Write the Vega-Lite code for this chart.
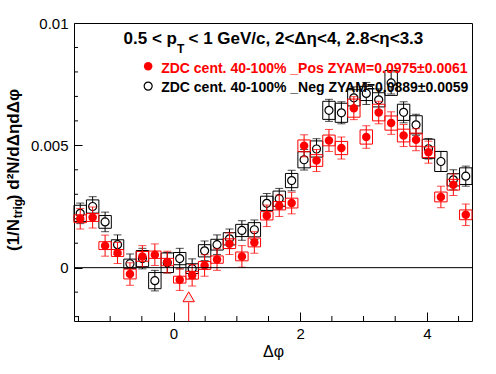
{
  "$schema": "https://vega.github.io/schema/vega-lite/v6.json",
  "width": 398,
  "height": 298,
  "autosize": {"type": "none"},
  "padding": {"left": 74, "top": 23, "right": 24, "bottom": 53},
  "background": "white",
  "config": {
    "view": {"stroke": "black", "strokeWidth": 1},
    "font": "Liberation Sans",
    "axis": {"domain": false, "grid": false, "tickColor": "black", "labelColor": "black", "titleColor": "black", "labelFont": "Liberation Sans", "titleFont": "Liberation Sans", "labelOverlap": false}
  },
  "datasets": {
    "neg": [
      {"x": -1.4726, "x0": -1.5708, "x1": -1.3744, "y": 0.00222, "b0": 0.00189, "b1": 0.00255, "e": 0.00042},
      {"x": -1.2763, "x0": -1.3744, "x1": -1.1781, "y": 0.00250, "b0": 0.00223, "b1": 0.00277, "e": 0.00040},
      {"x": -1.0799, "x0": -1.1781, "x1": -0.9817, "y": 0.00187, "b0": 0.00161, "b1": 0.00213, "e": 0.00040},
      {"x": -0.8836, "x0": -0.9817, "x1": -0.7854, "y": 0.00094, "b0": 0.00074, "b1": 0.00114, "e": 0.00040},
      {"x": -0.6872, "x0": -0.7854, "x1": -0.5890, "y": 0.00016, "b0": -0.00003, "b1": 0.00035, "e": 0.00040},
      {"x": -0.4909, "x0": -0.5890, "x1": -0.3927, "y": 0.00037, "b0": 0.00004, "b1": 0.00070, "e": 0.00042},
      {"x": -0.2945, "x0": -0.3927, "x1": -0.1963, "y": -0.00053, "b0": -0.00086, "b1": -0.00020, "e": 0.00042},
      {"x": -0.0982, "x0": -0.1963, "x1": 0.0, "y": 0.00020, "b0": -0.00020, "b1": 0.00060, "e": 0.00042},
      {"x": 0.0982, "x0": 0.0, "x1": 0.1963, "y": 0.00037, "b0": 0.00012, "b1": 0.00062, "e": 0.00042},
      {"x": 0.2945, "x0": 0.1963, "x1": 0.3927, "y": -0.00004, "b0": -0.00024, "b1": 0.00016, "e": 0.00040},
      {"x": 0.4909, "x0": 0.3927, "x1": 0.5890, "y": 0.00069, "b0": 0.00044, "b1": 0.00094, "e": 0.00040},
      {"x": 0.6872, "x0": 0.5890, "x1": 0.7854, "y": 0.00094, "b0": 0.00072, "b1": 0.00116, "e": 0.00040},
      {"x": 0.8836, "x0": 0.7854, "x1": 0.9817, "y": 0.00118, "b0": 0.00093, "b1": 0.00143, "e": 0.00040},
      {"x": 1.0799, "x0": 0.9817, "x1": 1.1781, "y": 0.00152, "b0": 0.00127, "b1": 0.00177, "e": 0.00040},
      {"x": 1.2763, "x0": 1.1781, "x1": 1.3744, "y": 0.00155, "b0": 0.00126, "b1": 0.00184, "e": 0.00040},
      {"x": 1.4726, "x0": 1.3744, "x1": 1.5708, "y": 0.00263, "b0": 0.00234, "b1": 0.00292, "e": 0.00040},
      {"x": 1.6690, "x0": 1.5708, "x1": 1.7671, "y": 0.00282, "b0": 0.00251, "b1": 0.00313, "e": 0.00042},
      {"x": 1.8653, "x0": 1.7671, "x1": 1.9635, "y": 0.00356, "b0": 0.00327, "b1": 0.00385, "e": 0.00042},
      {"x": 2.0617, "x0": 1.9635, "x1": 2.1598, "y": 0.00441, "b0": 0.00408, "b1": 0.00474, "e": 0.00042},
      {"x": 2.2580, "x0": 2.1598, "x1": 2.3562, "y": 0.00485, "b0": 0.00452, "b1": 0.00518, "e": 0.00042},
      {"x": 2.4544, "x0": 2.3562, "x1": 2.5525, "y": 0.00643, "b0": 0.00606, "b1": 0.00680, "e": 0.00045},
      {"x": 2.6507, "x0": 2.5525, "x1": 2.7489, "y": 0.00633, "b0": 0.00594, "b1": 0.00672, "e": 0.00045},
      {"x": 2.8471, "x0": 2.7489, "x1": 2.9452, "y": 0.00694, "b0": 0.00661, "b1": 0.00727, "e": 0.00045},
      {"x": 3.0434, "x0": 2.9452, "x1": 3.1416, "y": 0.00712, "b0": 0.00683, "b1": 0.00741, "e": 0.00045},
      {"x": 3.2398, "x0": 3.1416, "x1": 3.3379, "y": 0.00686, "b0": 0.00657, "b1": 0.00715, "e": 0.00045},
      {"x": 3.4361, "x0": 3.3379, "x1": 3.5343, "y": 0.00755, "b0": 0.00704, "b1": 0.00806, "e": 0.00045},
      {"x": 3.6325, "x0": 3.5343, "x1": 3.7306, "y": 0.00635, "b0": 0.00602, "b1": 0.00668, "e": 0.00043},
      {"x": 3.8288, "x0": 3.7306, "x1": 3.9270, "y": 0.00584, "b0": 0.00547, "b1": 0.00621, "e": 0.00043},
      {"x": 4.0252, "x0": 3.9270, "x1": 4.1233, "y": 0.00486, "b0": 0.00447, "b1": 0.00525, "e": 0.00042},
      {"x": 4.2215, "x0": 4.1233, "x1": 4.3197, "y": 0.00434, "b0": 0.00393, "b1": 0.00475, "e": 0.00041},
      {"x": 4.4179, "x0": 4.3197, "x1": 4.5160, "y": 0.00359, "b0": 0.00334, "b1": 0.00384, "e": 0.00041},
      {"x": 4.6142, "x0": 4.5160, "x1": 4.7124, "y": 0.00374, "b0": 0.00340, "b1": 0.00408, "e": 0.00041}
    ],
    "pos": [
      {"x": -1.4726, "x0": -1.5708, "x1": -1.3744, "y": 0.00200, "b0": 0.00184, "b1": 0.00216, "e": 0.00042},
      {"x": -1.2763, "x0": -1.3744, "x1": -1.1781, "y": 0.00205, "b0": 0.00189, "b1": 0.00221, "e": 0.00043},
      {"x": -1.0799, "x0": -1.1781, "x1": -0.9817, "y": 0.00090, "b0": 0.00074, "b1": 0.00106, "e": 0.00043},
      {"x": -0.8836, "x0": -0.9817, "x1": -0.7854, "y": 0.00060, "b0": 0.00046, "b1": 0.00074, "e": 0.00043},
      {"x": -0.6872, "x0": -0.7854, "x1": -0.5890, "y": -0.00026, "b0": -0.00046, "b1": -0.00006, "e": 0.00046},
      {"x": -0.4909, "x0": -0.5890, "x1": -0.3927, "y": 0.00046, "b0": 0.00026, "b1": 0.00066, "e": 0.00044},
      {"x": -0.2945, "x0": -0.3927, "x1": -0.1963, "y": 0.00053, "b0": 0.00038, "b1": 0.00068, "e": 0.00044},
      {"x": -0.0982, "x0": -0.1963, "x1": 0.0, "y": 0.00023, "b0": 0.00008, "b1": 0.00038, "e": 0.00044},
      {"x": 0.0982, "x0": 0.0, "x1": 0.1963, "y": -0.00049, "b0": -0.00063, "b1": -0.00035, "e": 0.00044},
      {"x": 0.2945, "x0": 0.1963, "x1": 0.3927, "y": -0.00031, "b0": -0.00047, "b1": -0.00015, "e": 0.00044},
      {"x": 0.4909, "x0": 0.3927, "x1": 0.5890, "y": 0.00009, "b0": -0.00007, "b1": 0.00025, "e": 0.00044},
      {"x": 0.6872, "x0": 0.5890, "x1": 0.7854, "y": 0.00033, "b0": 0.00018, "b1": 0.00048, "e": 0.00044},
      {"x": 0.8836, "x0": 0.7854, "x1": 0.9817, "y": 0.00098, "b0": 0.00078, "b1": 0.00118, "e": 0.00044},
      {"x": 1.0799, "x0": 0.9817, "x1": 1.1781, "y": 0.00046, "b0": 0.00028, "b1": 0.00064, "e": 0.00044},
      {"x": 1.2763, "x0": 1.1781, "x1": 1.3744, "y": 0.00103, "b0": 0.00085, "b1": 0.00121, "e": 0.00044},
      {"x": 1.4726, "x0": 1.3744, "x1": 1.5708, "y": 0.00212, "b0": 0.00195, "b1": 0.00229, "e": 0.00044},
      {"x": 1.6690, "x0": 1.5708, "x1": 1.7671, "y": 0.00253, "b0": 0.00236, "b1": 0.00270, "e": 0.00044},
      {"x": 1.8653, "x0": 1.7671, "x1": 1.9635, "y": 0.00264, "b0": 0.00244, "b1": 0.00284, "e": 0.00044},
      {"x": 2.0617, "x0": 1.9635, "x1": 2.1598, "y": 0.00498, "b0": 0.00474, "b1": 0.00522, "e": 0.00045},
      {"x": 2.2580, "x0": 2.1598, "x1": 2.3562, "y": 0.00438, "b0": 0.00414, "b1": 0.00462, "e": 0.00045},
      {"x": 2.4544, "x0": 2.3562, "x1": 2.5525, "y": 0.00520, "b0": 0.00498, "b1": 0.00542, "e": 0.00045},
      {"x": 2.6507, "x0": 2.5525, "x1": 2.7489, "y": 0.00489, "b0": 0.00462, "b1": 0.00516, "e": 0.00045},
      {"x": 2.8471, "x0": 2.7489, "x1": 2.9452, "y": 0.00652, "b0": 0.00615, "b1": 0.00689, "e": 0.00047},
      {"x": 3.0434, "x0": 2.9452, "x1": 3.1416, "y": 0.00534, "b0": 0.00505, "b1": 0.00563, "e": 0.00046},
      {"x": 3.2398, "x0": 3.1416, "x1": 3.3379, "y": 0.00634, "b0": 0.00600, "b1": 0.00668, "e": 0.00046},
      {"x": 3.4361, "x0": 3.3379, "x1": 3.5343, "y": 0.00591, "b0": 0.00562, "b1": 0.00620, "e": 0.00046},
      {"x": 3.6325, "x0": 3.5343, "x1": 3.7306, "y": 0.00540, "b0": 0.00514, "b1": 0.00566, "e": 0.00045},
      {"x": 3.8288, "x0": 3.7306, "x1": 3.9270, "y": 0.00523, "b0": 0.00496, "b1": 0.00550, "e": 0.00045},
      {"x": 4.0252, "x0": 3.9270, "x1": 4.1233, "y": 0.00472, "b0": 0.00450, "b1": 0.00494, "e": 0.00045},
      {"x": 4.2215, "x0": 4.1233, "x1": 4.3197, "y": 0.00289, "b0": 0.00269, "b1": 0.00309, "e": 0.00044},
      {"x": 4.4179, "x0": 4.3197, "x1": 4.5160, "y": 0.00339, "b0": 0.00317, "b1": 0.00361, "e": 0.00044},
      {"x": 4.6142, "x0": 4.5160, "x1": 4.7124, "y": 0.00216, "b0": 0.00196, "b1": 0.00236, "e": 0.00044}
    ],
    "yminor": [{"v": -0.002}, {"v": -0.001}, {"v": 0.001}, {"v": 0.002}, {"v": 0.003}, {"v": 0.004}, {"v": 0.006}, {"v": 0.007}, {"v": 0.008}, {"v": 0.009}],
    "xminor": [{"v": -1.5}, {"v": -1}, {"v": -0.5}, {"v": 0.5}, {"v": 1}, {"v": 1.5}, {"v": 2.5}, {"v": 3}, {"v": 3.5}, {"v": 4.5}]
  },
  "layer": [
    {
      "data": {"name": "neg"},
      "mark": {"type": "rect", "fillOpacity": 0, "stroke": "black", "strokeWidth": 1},
      "encoding": {
        "x": {"field": "x0", "type": "quantitative",
          "scale": {"domain": [-1.5708, 4.7124], "nice": false, "zero": false},
          "axis": {"title": "Δφ", "titleFontSize": 16, "titleFontWeight": "normal", "titlePadding": 2,
            "values": [0, 2, 4], "format": "~g",
            "tickSize": -9, "labelOverlap": false, "labelBound": false, "labelFlush": false,
            "labelFontSize": 15, "labelPadding": 14}},
        "x2": {"field": "x1"},
        "y": {"field": "b0", "type": "quantitative",
          "scale": {"domain": [-0.00218, 0.01], "nice": false, "zero": false},
          "axis": {"title": null,
            "values": [0, 0.005, 0.01], "format": "~g",
            "tickSize": -8, "labelOverlap": false, "labelBound": false, "labelFlush": false,
            "labelFontSize": 15, "labelPadding": 14}},
        "y2": {"field": "b1"}
      }
    },
    {
      "data": {"name": "yminor"},
      "mark": {"type": "tick", "orient": "horizontal", "size": 4, "thickness": 1, "xOffset": 2, "color": "black", "opacity": 1},
      "encoding": {
        "x": {"datum": -1.5708, "type": "quantitative"},
        "y": {"field": "v", "type": "quantitative"}
      }
    },
    {
      "data": {"name": "xminor"},
      "mark": {"type": "tick", "orient": "vertical", "size": 5, "thickness": 1, "yOffset": -2.5, "color": "black", "opacity": 1},
      "encoding": {
        "x": {"field": "v", "type": "quantitative"},
        "y": {"datum": -0.00218, "type": "quantitative"}
      }
    },
    {
      "data": {"name": "neg"},
      "mark": {"type": "errorbar", "color": "black", "thickness": 1, "ticks": {"size": 8, "thickness": 1, "color": "black"}},
      "encoding": {
        "x": {"field": "x", "type": "quantitative"},
        "y": {"field": "y", "type": "quantitative"},
        "yError": {"field": "e"}
      }
    },
    {
      "data": {"name": "neg"},
      "mark": {"type": "point", "shape": "circle", "size": 64, "filled": true, "fill": "white", "stroke": "black", "strokeWidth": 1.2, "opacity": 1},
      "encoding": {
        "x": {"field": "x", "type": "quantitative"},
        "y": {"field": "y", "type": "quantitative"}
      }
    },
    {
      "data": {"name": "pos"},
      "mark": {"type": "rect", "fillOpacity": 0, "stroke": "#ff0000", "strokeWidth": 1},
      "encoding": {
        "x": {"field": "x0", "type": "quantitative"},
        "x2": {"field": "x1"},
        "y": {"field": "b0", "type": "quantitative"},
        "y2": {"field": "b1"}
      }
    },
    {
      "data": {"name": "pos"},
      "mark": {"type": "errorbar", "color": "#ff0000", "thickness": 1, "ticks": {"size": 8, "thickness": 1, "color": "#ff0000"}},
      "encoding": {
        "x": {"field": "x", "type": "quantitative"},
        "y": {"field": "y", "type": "quantitative"},
        "yError": {"field": "e"}
      }
    },
    {
      "data": {"name": "pos"},
      "mark": {"type": "point", "shape": "circle", "size": 72, "filled": true, "color": "#ff0000", "opacity": 1},
      "encoding": {
        "x": {"field": "x", "type": "quantitative"},
        "y": {"field": "y", "type": "quantitative"}
      }
    },
    {
      "data": {"values": [{"y": 0}]},
      "mark": {"type": "rule", "color": "black", "strokeWidth": 1},
      "encoding": {"y": {"field": "y", "type": "quantitative"}}
    },
    {
      "data": {"values": [{"x": 0.24, "ytop": -0.00142, "ybot": -0.00218}]},
      "mark": {"type": "rule", "color": "#ff0000", "strokeWidth": 1},
      "encoding": {
        "x": {"field": "x", "type": "quantitative"},
        "y": {"field": "ytop", "type": "quantitative"},
        "y2": {"field": "ybot"}
      }
    },
    {
      "data": {"values": [{"x": 0.24, "y": -0.00119}]},
      "mark": {"type": "point", "shape": "triangle-up", "size": 130, "filled": true, "fill": "#eeeeee", "stroke": "#ff0000", "strokeWidth": 1, "opacity": 1},
      "encoding": {
        "x": {"field": "x", "type": "quantitative"},
        "y": {"field": "y", "type": "quantitative"}
      }
    },
    {
      "data": {"values": [{"x": -0.4, "y": 0.00742}]},
      "mark": {"type": "point", "shape": "circle", "size": 64, "filled": true, "fill": "white", "stroke": "black", "strokeWidth": 1.2, "opacity": 1},
      "encoding": {
        "x": {"field": "x", "type": "quantitative"},
        "y": {"field": "y", "type": "quantitative"}
      }
    },
    {
      "data": {"values": [{"x": -0.4, "y": 0.00823}]},
      "mark": {"type": "point", "shape": "circle", "size": 72, "filled": true, "color": "#ff0000", "opacity": 1},
      "encoding": {
        "x": {"field": "x", "type": "quantitative"},
        "y": {"field": "y", "type": "quantitative"}
      }
    },
    {
      "data": {"values": [
        {"x": -0.195, "y": 0.00795, "t": "ZDC cent. 40-100% _Pos ZYAM=0.0975±0.0061", "s": "Pos"},
        {"x": -0.195, "y": 0.00716, "t": "ZDC cent. 40-100% _Neg ZYAM=0.0889±0.0059", "s": "Neg"}
      ]},
      "mark": {"type": "text", "align": "left", "baseline": "alphabetic", "fontSize": 14, "fontWeight": "bold", "font": "Liberation Sans"},
      "encoding": {
        "x": {"field": "x", "type": "quantitative"},
        "y": {"field": "y", "type": "quantitative"},
        "text": {"field": "t"},
        "color": {"field": "s", "type": "nominal", "scale": {"domain": ["Pos", "Neg"], "range": ["#ff0000", "black"]}, "legend": null}
      }
    },
    {
      "data": {"values": [{"x": 0.054, "y": 0.00913, "t": "0.5 < p"}]},
      "mark": {"type": "text", "align": "right", "baseline": "alphabetic", "fontSize": 17, "fontWeight": "bold", "font": "Liberation Sans", "color": "black"},
      "encoding": {
        "x": {"field": "x", "type": "quantitative"},
        "y": {"field": "y", "type": "quantitative"},
        "text": {"field": "t"}
      }
    },
    {
      "data": {"values": [{"x": 0.054, "y": 0.00879, "t": "T"}]},
      "mark": {"type": "text", "align": "left", "baseline": "alphabetic", "fontSize": 12, "fontWeight": "bold", "font": "Liberation Sans", "color": "black"},
      "encoding": {
        "x": {"field": "x", "type": "quantitative"},
        "y": {"field": "y", "type": "quantitative"},
        "text": {"field": "t"}
      }
    },
    {
      "data": {"values": [{"x": 0.237, "y": 0.00913, "t": "< 1 GeV/c, 2<Δη<4, 2.8<η<3.3"}]},
      "mark": {"type": "text", "align": "left", "baseline": "alphabetic", "fontSize": 17, "fontWeight": "bold", "font": "Liberation Sans", "color": "black"},
      "encoding": {
        "x": {"field": "x", "type": "quantitative"},
        "y": {"field": "y", "type": "quantitative"},
        "text": {"field": "t"}
      }
    },
    {
      "data": {"values": [{"x": -2.441, "y": 0.00068, "t": "(1/N"}, {"x": -2.441, "y": 0.00276, "t": ") d²N/dΔηdΔφ"}]},
      "mark": {"type": "text", "align": "left", "baseline": "alphabetic", "angle": -90, "fontSize": 17, "fontWeight": "bold", "font": "Liberation Sans", "color": "black"},
      "encoding": {
        "x": {"field": "x", "type": "quantitative"},
        "y": {"field": "y", "type": "quantitative"},
        "text": {"field": "t"}
      }
    },
    {
      "data": {"values": [{"x": -2.395, "y": 0.00202, "t": "trig"}]},
      "mark": {"type": "text", "align": "left", "baseline": "alphabetic", "angle": -90, "fontSize": 12, "fontWeight": "bold", "font": "Liberation Sans", "color": "black"},
      "encoding": {
        "x": {"field": "x", "type": "quantitative"},
        "y": {"field": "y", "type": "quantitative"},
        "text": {"field": "t"}
      }
    }
  ]
}
